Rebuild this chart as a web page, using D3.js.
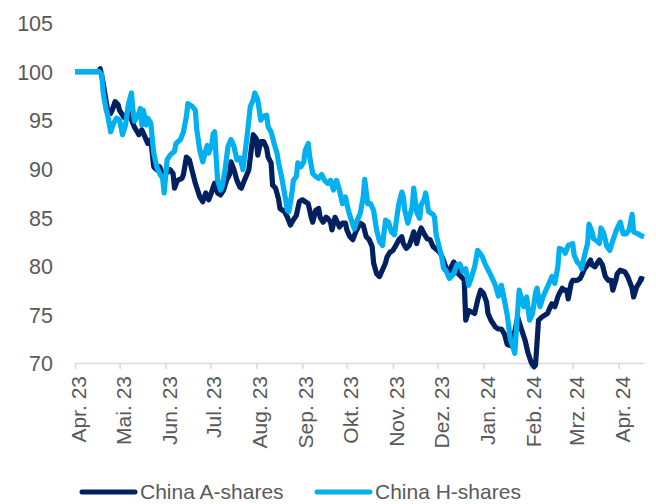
<!DOCTYPE html>
<html>
<head>
<meta charset="utf-8">
<script src="https://cdn.jsdelivr.net/npm/d3@7"></script>
<style>
  html, body { margin: 0; padding: 0; background: #ffffff; }
  svg { display: block; }
  text { font-family: "Liberation Sans", Arial, sans-serif; }
</style>
</head>
<body>
<svg id="chart" width="656" height="504"></svg>
<script>
// ---------- DATA ----------
const seriesNames = ["China A-shares", "China H-shares"];

const chinaA = [
  ["2023-04-01",100],["2023-04-17",100],["2023-04-18",100.3],["2023-04-20",98.8],["2023-04-21",97.8],
  ["2023-04-23",96.0],["2023-04-25",95.7],["2023-04-26",96.0],["2023-04-28",96.9],["2023-04-30",96.6],
  ["2023-05-01",96.0],["2023-05-04",95.3],["2023-05-07",95.8],["2023-05-11",94.3],["2023-05-14",93.5],
  ["2023-05-16",94.0],["2023-05-18",93.3],["2023-05-20",92.6],["2023-05-22",93.0],["2023-05-24",90.2],
  ["2023-05-26",89.9],["2023-05-28",90.2],["2023-05-30",89.4],["2023-06-01",89.5],["2023-06-04",89.9],
  ["2023-06-06",89.5],["2023-06-07",88.0],["2023-06-09",88.8],["2023-06-12",89.0],["2023-06-13",89.4],
  ["2023-06-15",91.2],["2023-06-17",90.9],["2023-06-19",89.7],["2023-06-21",88.5],["2023-06-24",87.1],
  ["2023-06-26",86.6],["2023-06-28",87.5],["2023-06-30",86.8],["2023-07-02",87.6],["2023-07-03",88.1],
  ["2023-07-04",88.5],["2023-07-06",87.5],["2023-07-08",87.3],["2023-07-10",87.8],["2023-07-12",88.8],
  ["2023-07-14",89.4],["2023-07-15",90.7],["2023-07-17",89.9],["2023-07-19",88.8],["2023-07-21",88.1],
  ["2023-07-22",88.0],["2023-07-24",88.8],["2023-07-26",89.5],["2023-07-27",89.9],["2023-07-29",92.4],
  ["2023-07-30",93.5],["2023-08-01",93.1],["2023-08-02",91.4],["2023-08-04",92.8],["2023-08-06",92.8],
  ["2023-08-08",92.1],["2023-08-09",91.2],["2023-08-11",90.6],["2023-08-12",88.3],["2023-08-14",88.0],
  ["2023-08-16",86.9],["2023-08-17",85.9],["2023-08-20",85.6],["2023-08-22",85.0],["2023-08-24",84.2],
  ["2023-08-25",84.5],["2023-08-28",85.2],["2023-08-30",86.6],["2023-09-01",86.8],["2023-09-03",86.6],
  ["2023-09-05",86.4],["2023-09-07",85.0],["2023-09-08",84.5],["2023-09-10",85.7],["2023-09-12",85.9],
  ["2023-09-13",85.0],["2023-09-15",84.5],["2023-09-17",85.0],["2023-09-18",84.9],["2023-09-20",84.5],
  ["2023-09-21",83.7],["2023-09-23",85.0],["2023-09-24",84.7],["2023-09-26",84.0],["2023-09-28",84.4],
  ["2023-09-30",84.4],["2023-10-01",83.7],["2023-10-03",83.0],["2023-10-05",82.7],["2023-10-07",83.5],
  ["2023-10-10",84.4],["2023-10-12",84.2],["2023-10-14",83.0],["2023-10-16",82.7],["2023-10-18",82.0],
  ["2023-10-19",80.3],["2023-10-21",79.2],["2023-10-23",78.9],["2023-10-25",79.6],["2023-10-27",80.3],
  ["2023-10-28",80.9],["2023-10-30",81.4],["2023-11-01",81.6],["2023-11-03",82.1],["2023-11-05",82.7],
  ["2023-11-07",83.0],["2023-11-08",82.3],["2023-11-10",81.8],["2023-11-12",82.1],["2023-11-14",83.0],
  ["2023-11-15",83.5],["2023-11-17",82.3],["2023-11-19",83.5],["2023-11-20",83.9],["2023-11-22",83.3],
  ["2023-11-24",82.8],["2023-11-26",82.7],["2023-11-28",82.0],["2023-12-01",81.6],["2023-12-03",81.3],
  ["2023-12-05",80.6],["2023-12-07",79.7],["2023-12-09",79.5],["2023-12-12",80.4],["2023-12-13",80.1],
  ["2023-12-15",79.2],["2023-12-17",78.9],["2023-12-19",78.5],["2023-12-20",74.4],["2023-12-22",75.4],
  ["2023-12-24",75.25],["2023-12-26",75.1],["2023-12-28",76.45],["2023-12-30",77.5],["2024-01-01",77.15],
  ["2024-01-03",76.3],["2024-01-04",75.1],["2024-01-06",74.4],["2024-01-09",73.7],["2024-01-11",73.5],
  ["2024-01-13",73.5],["2024-01-15",73.0],["2024-01-17",71.9],["2024-01-19",71.8],["2024-01-21",72.5],
  ["2024-01-24",74.7],["2024-01-26",73.7],["2024-01-29",72.3],["2024-01-31",71.0],["2024-02-02",70.1],
  ["2024-02-04",69.6],["2024-02-05",69.8],["2024-02-07",74.4],["2024-02-09",74.7],["2024-02-11",74.9],
  ["2024-02-13",75.1],["2024-02-15",75.8],["2024-02-16",76.1],["2024-02-18",75.8],["2024-02-20",76.8],
  ["2024-02-21",77.15],["2024-02-23",77.7],["2024-02-24",77.5],["2024-02-26",77.5],["2024-02-27",76.6],
  ["2024-02-29",78.2],["2024-03-01",78.5],["2024-03-04",78.5],["2024-03-06",78.7],["2024-03-07",79.0],
  ["2024-03-09",79.7],["2024-03-11",80.1],["2024-03-13",80.6],["2024-03-14",80.1],["2024-03-16",79.9],
  ["2024-03-18",80.4],["2024-03-19",80.6],["2024-03-21",80.1],["2024-03-23",78.9],["2024-03-25",78.5],
  ["2024-03-27",78.5],["2024-03-28",77.5],["2024-03-30",78.5],["2024-03-31",79.2],["2024-04-02",79.55],
  ["2024-04-05",79.4],["2024-04-07",78.9],["2024-04-08",78.5],["2024-04-10",77.7],["2024-04-11",76.8],
  ["2024-04-13",77.8],["2024-04-15",78.3],["2024-04-16",78.7],["2024-04-18",78.6]
];

const chinaH = [
  ["2023-04-01",100],["2023-04-17",100],["2023-04-19",99.7],["2023-04-20",97.8],["2023-04-22",96.05],
  ["2023-04-23",95.5],["2023-04-25",93.8],["2023-04-27",94.7],["2023-04-29",95.2],["2023-05-01",95.0],
  ["2023-05-03",93.5],["2023-05-05",94.5],["2023-05-07",96.7],["2023-05-09",97.8],["2023-05-10",96.0],
  ["2023-05-11",94.9],["2023-05-14",95.7],["2023-05-15",96.2],["2023-05-16",94.5],["2023-05-17",96.0],
  ["2023-05-19",94.5],["2023-05-20",95.2],["2023-05-22",94.7],["2023-05-24",91.6],["2023-05-26",90.2],
  ["2023-05-28",89.5],["2023-05-30",89.0],["2023-05-31",87.5],["2023-06-02",90.9],["2023-06-04",91.4],
  ["2023-06-07",91.8],["2023-06-08",92.6],["2023-06-11",93.0],["2023-06-13",93.8],["2023-06-15",95.4],
  ["2023-06-16",96.7],["2023-06-19",96.4],["2023-06-21",96.0],["2023-06-22",94.0],["2023-06-24",91.9],
  ["2023-06-26",90.7],["2023-06-28",91.9],["2023-06-29",92.4],["2023-06-30",91.6],["2023-07-02",92.4],
  ["2023-07-03",93.6],["2023-07-04",93.8],["2023-07-05",91.2],["2023-07-06",88.8],["2023-07-08",87.8],
  ["2023-07-09",88.1],["2023-07-11",89.9],["2023-07-13",92.3],["2023-07-15",93.0],["2023-07-17",92.3],
  ["2023-07-19",90.9],["2023-07-21",91.1],["2023-07-22",90.6],["2023-07-23",89.9],["2023-07-25",92.3],
  ["2023-07-26",93.6],["2023-07-28",96.4],["2023-07-30",97.1],["2023-07-31",97.8],["2023-08-02",97.1],
  ["2023-08-04",95.0],["2023-08-06",95.4],["2023-08-08",95.5],["2023-08-09",94.3],["2023-08-11",93.8],
  ["2023-08-13",92.6],["2023-08-15",91.6],["2023-08-16",90.6],["2023-08-18",89.2],["2023-08-20",87.5],
  ["2023-08-22",85.7],["2023-08-23",85.6],["2023-08-25",87.5],["2023-08-26",88.8],["2023-08-28",89.2],
  ["2023-08-29",90.6],["2023-08-31",90.2],["2023-09-02",90.7],["2023-09-03",91.9],["2023-09-05",92.6],
  ["2023-09-06",91.2],["2023-09-08",89.5],["2023-09-10",89.2],["2023-09-12",89.0],["2023-09-14",89.4],
  ["2023-09-16",88.8],["2023-09-18",88.5],["2023-09-20",88.8],["2023-09-22",87.8],["2023-09-24",88.8],
  ["2023-09-26",87.8],["2023-09-28",86.4],["2023-09-30",87.1],["2023-10-02",85.7],["2023-10-04",84.7],
  ["2023-10-06",83.8],["2023-10-08",84.7],["2023-10-10",85.4],["2023-10-12",87.1],["2023-10-13",88.9],
  ["2023-10-15",86.4],["2023-10-17",86.4],["2023-10-19",85.7],["2023-10-21",83.7],["2023-10-23",82.5],
  ["2023-10-25",82.1],["2023-10-27",84.7],["2023-10-29",84.5],["2023-10-31",83.5],["2023-11-02",83.2],
  ["2023-11-04",85.4],["2023-11-05",86.4],["2023-11-07",87.6],["2023-11-08",87.1],["2023-11-09",85.7],
  ["2023-11-11",84.4],["2023-11-14",86.1],["2023-11-15",88.0],["2023-11-17",85.5],["2023-11-19",84.9],
  ["2023-11-20",86.3],["2023-11-22",86.8],["2023-11-23",87.5],["2023-11-25",85.6],["2023-11-28",85.3],
  ["2023-11-29",85.0],["2023-11-30",83.3],["2023-12-02",82.0],["2023-12-04",80.8],["2023-12-05",79.8],
  ["2023-12-07",79.4],["2023-12-09",78.7],["2023-12-12",79.2],["2023-12-14",80.1],["2023-12-16",80.2],
  ["2023-12-18",79.4],["2023-12-20",79.7],["2023-12-22",78.0],["2023-12-24",78.9],["2023-12-26",79.9],
  ["2023-12-28",81.6],["2023-12-31",81.0],["2024-01-02",80.2],["2024-01-04",79.6],["2024-01-06",79.0],
  ["2024-01-09",78.0],["2024-01-11",76.9],["2024-01-13",78.0],["2024-01-15",76.5],["2024-01-17",74.9],
  ["2024-01-19",72.5],["2024-01-22",71.0],["2024-01-24",75.4],["2024-01-25",77.5],["2024-01-28",75.8],
  ["2024-01-30",76.8],["2024-02-01",74.4],["2024-02-03",75.1],["2024-02-05",77.2],["2024-02-06",77.7],
  ["2024-02-08",75.8],["2024-02-10",76.8],["2024-02-12",77.5],["2024-02-15",78.5],["2024-02-16",78.9],
  ["2024-02-18",78.2],["2024-02-20",79.9],["2024-02-21",81.8],["2024-02-24",81.6],["2024-02-25",81.3],
  ["2024-02-27",82.1],["2024-03-01",82.3],["2024-03-02",81.1],["2024-03-04",80.4],["2024-03-06",80.1],
  ["2024-03-07",79.7],["2024-03-09",81.1],["2024-03-11",82.3],["2024-03-12",84.3],["2024-03-14",83.5],
  ["2024-03-15",82.8],["2024-03-17",82.6],["2024-03-19",82.3],["2024-03-20",83.9],["2024-03-22",83.3],
  ["2024-03-24",82.0],["2024-03-26",81.6],["2024-03-28",82.6],["2024-03-30",83.5],["2024-04-01",84.2],
  ["2024-04-02",84.5],["2024-04-04",83.3],["2024-04-06",83.3],["2024-04-08",83.7],["2024-04-10",85.3],
  ["2024-04-11",83.5],["2024-04-14",83.3],["2024-04-16",83.1],["2024-04-18",83.0]
];

const yTicks = [70, 75, 80, 85, 90, 95, 100, 105];
const xTickDates = ["2023-04-01","2023-05-01","2023-06-01","2023-07-01","2023-08-01","2023-09-01",
  "2023-10-01","2023-11-01","2023-12-01","2024-01-01","2024-02-01","2024-03-01","2024-04-01"];
const xTickLabels = ["Apr. 23","Mai. 23","Jun. 23","Jul. 23","Aug. 23","Sep. 23","Okt. 23",
  "Nov. 23","Dez. 23","Jan. 24","Feb. 24","Mrz. 24","Apr. 24"];
const colors = ["#002060", "#00b0f0"];

// ---------- DRAW ----------
const parse = d3.timeParse("%Y-%m-%d");
const svg = d3.select("#chart");

const x = d3.scaleTime()
  .domain([parse("2023-04-01"), parse("2024-04-18")])
  .range([75, 644]);
const y = d3.scaleLinear().domain([70, 105]).range([363, 23]);

// y axis labels (no line)
const yAxis = d3.axisLeft(y).tickValues(yTicks).tickSize(0).tickPadding(0).tickFormat(d3.format("d"));
const gy = svg.append("g").attr("transform", "translate(53,0)").call(yAxis);
gy.select(".domain").remove();
gy.selectAll("text")
  .attr("font-family", "Liberation Sans, Arial, sans-serif")
  .attr("font-size", 21.5).attr("fill", "#595959").attr("dy", "0.36em");

// x axis
const xAxis = d3.axisBottom(x)
  .tickValues(xTickDates.map(parse))
  .tickSize(6)
  .tickSizeOuter(0)
  .tickFormat((d, i) => xTickLabels[i]);
const gx = svg.append("g").attr("transform", "translate(0,363)").call(xAxis);
gx.select(".domain").attr("stroke", "#d9d9d9").attr("stroke-width", 1.6);
gx.selectAll(".tick line").attr("stroke", "#d9d9d9").attr("stroke-width", 1.6);
gx.selectAll(".tick text")
  .attr("font-family", "Liberation Sans, Arial, sans-serif")
  .attr("font-size", 21)
  .attr("fill", "#595959")
  .attr("text-anchor", "end")
  .attr("transform", "rotate(-90)")
  .attr("x", -13)
  .attr("y", 3)
  .attr("dy", "0.36em");

// lines
const line = d3.line()
  .x(d => x(parse(d[0])))
  .y(d => y(d[1]))
  .curve(d3.curveLinear);

[chinaA, chinaH].forEach((s, i) => {
  svg.append("path")
    .datum(s)
    .attr("fill", "none")
    .attr("stroke", colors[i])
    .attr("stroke-width", 5.2)
    .attr("stroke-linejoin", "round")
    .attr("stroke-linecap", "butt")
    .attr("d", line);
});

// legend
const legendItems = [
  { name: seriesNames[0], color: colors[0], x0: 82 },
  { name: seriesNames[1], color: colors[1], x0: 317 }
];
const lg = svg.append("g");
legendItems.forEach(it => {
  lg.append("line")
    .attr("x1", it.x0).attr("x2", it.x0 + 53)
    .attr("y1", 492).attr("y2", 492)
    .attr("stroke", it.color).attr("stroke-width", 5).attr("stroke-linecap", "round");
  lg.append("text")
    .attr("x", it.x0 + 58).attr("y", 492).attr("dy", "0.35em")
    .attr("font-size", 21).attr("fill", "#595959")
    .text(it.name);
});
</script>
</body>
</html>
